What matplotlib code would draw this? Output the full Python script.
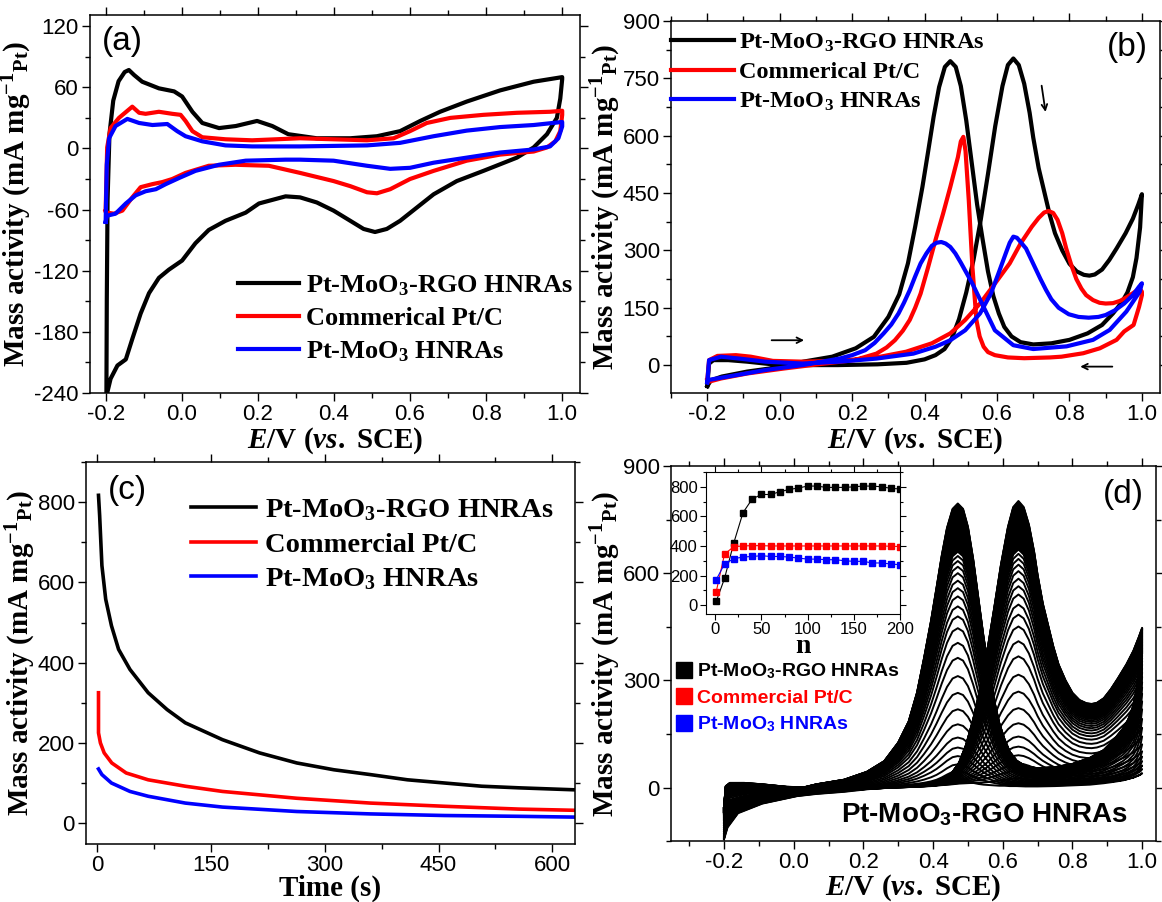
import numpy as np
import matplotlib
matplotlib.use("Agg")
import matplotlib.pyplot as plt
from matplotlib.lines import Line2D
from matplotlib.ticker import MultipleLocator

plt.rcParams['font.family'] = ['Liberation Sans', 'DejaVu Sans']
plt.rcParams['mathtext.fontset'] = 'custom'
plt.rcParams['mathtext.rm'] = 'Liberation Serif:bold'
plt.rcParams['mathtext.it'] = 'Liberation Serif:italic:bold'
plt.rcParams['mathtext.bf'] = 'Liberation Serif:bold'
plt.rcParams['mathtext.sf'] = 'Liberation Sans:bold'
plt.rcParams['axes.unicode_minus'] = False

# ---------------- (a) CV in H2SO4 ----------------
a_blk_x = [-0.198, -0.197, -0.195, -0.19, -0.18, -0.166, -0.15, -0.139, -0.125, -0.104, -0.06, -0.02, 0.001,
           0.028, 0.054, 0.098, 0.142, 0.198, 0.238, 0.28, 0.355, 0.443, 0.513, 0.574, 0.627, 0.679, 0.749,
           0.837, 0.925, 1.0,
           1.0, 0.995, 0.986, 0.96, 0.925, 0.881, 0.793, 0.723, 0.662, 0.618, 0.574, 0.539, 0.508, 0.478,
           0.443, 0.399, 0.355, 0.311, 0.273, 0.203, 0.168, 0.115, 0.071, 0.036, 0.001, -0.034, -0.06,
           -0.086, -0.108, -0.13, -0.147, -0.169, -0.187, -0.196]
a_blk_y = [-240, -149, -51, 14, 47, 66, 75, 77, 72, 65.5, 59, 56, 51, 36, 25, 20, 22, 27, 22, 14, 10, 10,
           12, 17, 27, 36, 46, 57, 65.5, 70,
           68, 49, 30, 14, 1, -9, -22, -32, -45, -58, -71, -79, -82, -79, -71, -61, -53, -48, -47, -54,
           -63, -71, -80, -93, -110, -119, -127, -142, -162, -187, -207, -213, -226, -240]

a_red_x = [-0.2, -0.196, -0.187, -0.165, -0.13, -0.112, -0.095, -0.06, -0.025, -0.003, 0.01, 0.028, 0.054,
           0.115, 0.185, 0.311, 0.399, 0.487, 0.557, 0.6, 0.644, 0.706, 0.793, 0.881, 0.968, 1.0,
           1.0, 0.995, 0.982, 0.96, 0.925, 0.837, 0.749, 0.662, 0.6, 0.548, 0.513, 0.487, 0.443, 0.399,
           0.311, 0.229, 0.141, 0.071, 0.01, -0.025, -0.051, -0.077, -0.108, -0.13, -0.156, -0.178,
           -0.196, -0.2]
a_red_y = [-61, 1, 20, 30, 41, 35, 34, 36, 34, 33, 27, 17, 11, 9, 8, 10, 9, 8, 10, 17, 25, 30, 33, 35, 36, 37,
           33, 17, 7, 1, -3, -6, -12, -22, -30, -40, -44, -43, -37, -32, -24, -17, -16, -17, -24, -30,
           -33, -35, -38, -48, -61, -64, -63, -61]

a_blu_x = [-0.2, -0.197, -0.191, -0.174, -0.143, -0.112, -0.077, -0.038, -0.012, 0.01, 0.054, 0.115, 0.185,
           0.311, 0.487, 0.574, 0.662, 0.749, 0.837, 0.925, 1.0,
           1.0, 0.99, 0.968, 0.925, 0.837, 0.749, 0.662, 0.6, 0.548, 0.487, 0.399, 0.311, 0.273, 0.168,
           0.098, 0.036, -0.007, -0.042, -0.068, -0.095, -0.121, -0.147, -0.174, -0.196, -0.2]
a_blu_y = [-72, -16, 10, 22, 29, 25, 23, 24, 17, 12, 7, 3, 2, 2, 3, 5.5, 12, 17.5, 21, 23, 26,
           21.6, 10, 2, -1, -4, -9, -14, -19, -20, -17, -12, -11, -11, -12, -16, -22, -29, -35, -40,
           -42, -46, -54, -64, -66, -72]

# ---------------- (b) CV in H2SO4 + CH3OH ----------------
b_blk_fwd_x = [-0.2, -0.195, -0.183, -0.142, -0.09, -0.02, 0.06, 0.16, 0.27, 0.35, 0.40, 0.43, 0.455, 0.475,
               0.495, 0.515, 0.535, 0.555, 0.575, 0.595, 0.615, 0.63, 0.645, 0.66, 0.675, 0.69, 0.70,
               0.715, 0.73, 0.745, 0.76, 0.78, 0.80, 0.82, 0.84, 0.855, 0.87, 0.89, 0.91, 0.93, 0.955,
               0.975, 0.99, 1.0]
b_blk_fwd_y = [-55, 4, 13, 13, 9, 2, 0, 0, 2, 6, 15, 26, 42, 70, 120, 190, 275, 380, 500, 625, 730, 785,
               802, 785, 736, 660, 595, 515, 455, 395, 345, 300, 265, 245, 236, 234, 237, 250, 275, 305,
               345, 383, 420, 447]
b_blk_rev_x = [1.0, 0.995, 0.985, 0.975, 0.96, 0.945, 0.92, 0.89, 0.85, 0.80, 0.75, 0.70, 0.665, 0.64,
               0.62, 0.605, 0.59, 0.575, 0.56, 0.545, 0.53, 0.515, 0.50, 0.486, 0.471, 0.456, 0.44, 0.425,
               0.41, 0.394, 0.374, 0.354, 0.33, 0.30, 0.26, 0.21, 0.145, 0.065, 0.01, -0.09, -0.16,
               -0.19, -0.2]
b_blk_rev_y = [447, 360, 280, 230, 190, 165, 135, 105, 83, 66, 57, 54, 60, 75, 100, 135, 180, 245, 330,
               420, 530, 640, 730, 780, 795, 780, 727, 650, 560, 466, 362, 266, 185, 126, 74, 44, 22, 9,
               -4, -17, -30, -40, -55]

b_red_fwd_x = [-0.2, -0.195, -0.172, -0.121, -0.08, -0.019, 0.063, 0.165, 0.267, 0.349, 0.42, 0.471, 0.512,
               0.553, 0.594, 0.635, 0.665, 0.696, 0.715, 0.73, 0.742, 0.755, 0.767, 0.78, 0.791, 0.805,
               0.819, 0.833, 0.846, 0.865, 0.883, 0.90, 0.92, 0.94, 0.957, 0.975, 0.994, 1.0]
b_red_fwd_y = [-39, 13, 24, 26, 22, 11, 9, 11, 20, 35, 57, 83, 118, 161, 213, 266, 318, 362, 385, 399,
               403, 398, 380, 345, 305, 262, 225, 200, 183, 170, 163, 161, 162, 168, 177, 188, 200, 192]
b_red_rev_x = [1.0, 0.992, 0.977, 0.951, 0.93, 0.884, 0.838, 0.778, 0.746, 0.675, 0.63, 0.594, 0.575,
               0.563, 0.552, 0.543, 0.532, 0.522, 0.513, 0.507, 0.5, 0.492, 0.471, 0.451, 0.43, 0.41,
               0.389, 0.374, 0.359, 0.34, 0.318, 0.295, 0.267, 0.206, 0.114, 0.011, -0.09, -0.162,
               -0.198, -0.2]
b_red_rev_y = [183, 152, 105, 88, 66, 44, 31, 22, 20, 18, 20, 26, 34, 48, 75, 118, 257, 431, 560, 597,
               585, 544, 466, 396, 327, 257, 187, 150, 118, 90, 65, 46, 30, 13, 3, -9, -22, -35, -44, -39]

b_blu_fwd_x = [-0.2, -0.195, -0.162, -0.111, -0.04, 0.063, 0.165, 0.267, 0.369, 0.43, 0.471, 0.512, 0.553,
               0.583, 0.604, 0.624, 0.635, 0.645, 0.655, 0.665, 0.68, 0.69, 0.705, 0.72, 0.735, 0.75, 0.77,
               0.798, 0.825, 0.853, 0.88, 0.9, 0.925, 0.951, 0.975, 0.992, 1.0]
b_blu_fwd_y = [-45, 13, 22, 17, 9, 4, 9, 17, 30, 48, 65, 91, 135, 187, 240, 292, 320, 336, 333, 322, 305,
               285, 255, 225, 197, 172, 150, 133, 126, 124, 126, 131, 143, 161, 183, 205, 214]
b_blu_rev_x = [1.0, 0.994, 0.957, 0.911, 0.865, 0.792, 0.7, 0.645, 0.594, 0.563, 0.532, 0.50, 0.485, 0.471,
               0.458, 0.446, 0.433, 0.42, 0.405, 0.389, 0.374, 0.359, 0.343, 0.328, 0.308, 0.287, 0.262,
               0.236, 0.2, 0.165, 0.063, -0.04, -0.142, -0.198, -0.2]
b_blu_rev_y = [214, 192, 140, 92, 66, 49, 42, 52, 91, 152, 213, 268, 292, 309, 318, 322, 320, 312, 292,
               266, 232, 196, 163, 135, 106, 83, 58, 39, 26, 17, 0, -13, -30, -39, -45]

# ---------------- (c) chronoamperometry ----------------
c_blk_t = [1.5, 3, 6, 11, 18.6, 28, 43, 67, 92, 116, 165, 214, 263, 312, 360, 409, 458, 507, 556, 630]
c_blk_i = [817, 767, 642, 558, 492, 433, 383, 325, 283, 250, 208, 175, 150, 133, 121, 108, 100, 92, 88, 83]
c_red_t = [1.5, 1.5, 4, 9, 19, 38, 67, 116, 165, 263, 360, 458, 556, 630]
c_red_i = [325, 225, 200, 175, 150, 125, 108, 92, 79, 62, 50, 42, 35, 32]
c_blu_t = [1.5, 6, 18.6, 43, 67, 116, 165, 263, 360, 458, 556, 630]
c_blu_i = [135, 121, 100, 79, 67, 50, 40, 29, 23, 19, 17, 15]

# ---------------- (d) 200 cycles of Pt-MoO3-RGO ----------------
# first cycle, read at the same potentials as the (b) black curve
d_first_fwd_y = [-145, -105, -80, -58, -38, -24, -14, -7, -1, 2, 5, 7, 9, 11, 12, 13, 14, 15, 17, 20, 23,
                 25, 26, 25, 23, 21, 20, 18, 16, 15, 14, 13, 13, 13, 13, 13, 14, 15, 17, 19, 23, 28, 34, 40]
d_first_rev_y = [40, 36, 32, 28, 24, 20, 16, 12, 8, 6, 4, 3, 3, 4, 4, 5, 5, 6, 7, 8, 10, 13, 18, 22, 24,
                 22, 16, 10, 6, 4, 3, 3, 3, 2, -1, -5, -12, -18, -24, -45, -72, -112, -145]
# peak heights (near 0.47 V) of the drawn cycles
d_peaks = [24, 46, 65, 88, 112, 140, 177, 219, 265, 312, 363, 405, 446, 479, 507, 535, 558, 579, 600,
           618, 634, 648, 660, 664, 668, 672, 676, 680, 684, 688, 692, 696, 700, 704, 708, 712, 716, 720,
           724, 728, 732, 736, 740, 744, 748, 752, 756, 760, 764, 768, 772, 776, 780, 784, 788, 791,
           793, 795]
# inset: peak current vs cycle number
n_cyc = [1, 10, 20, 30, 40, 50, 60, 70, 80, 90, 100, 110, 120, 130, 140, 150, 160, 170, 180, 190, 200]
n_blk = [25, 180, 420, 625, 718, 748, 748, 767, 782, 792, 805, 805, 796, 796, 796, 800, 805, 805, 800,
         790, 785]
n_red = [90, 345, 395, 400, 402, 402, 400, 400, 400, 400, 400, 400, 400, 400, 400, 400, 400, 400, 400,
         398, 396]
n_blu = [172, 278, 314, 325, 329, 334, 329, 329, 325, 318, 311, 311, 307, 307, 300, 296, 296, 285, 285,
         278, 273]

labels_a = ['Pt-MoO$_3$-RGO HNRAs', 'Commerical Pt/C', 'Pt-MoO$_3$ HNRAs']
labels_c = ['Pt-MoO$_3$-RGO HNRAs', 'Commercial Pt/C', 'Pt-MoO$_3$ HNRAs']
labels_d = ['Pt-MoO$_\\mathsf{3}$-RGO HNRAs', 'Commercial Pt/C', 'Pt-MoO$_\\mathsf{3}$ HNRAs']
colors = ['black', '#ff0000', '#0000ff']

YLAB = 'Mass activity (mA mg$^{-1}{}_{\\rm Pt}$)'
XLAB = '$\\mathit{E}$/V ($\\mathit{vs.}$ SCE)'
SERIF = {'family': 'Liberation Serif', 'weight': 'bold'}
TICK_FS = 16
LAB_FS = 21


def style(ax, xmaj, xmin, ymaj, ymin):
    ax.xaxis.set_major_locator(MultipleLocator(xmaj))
    ax.xaxis.set_minor_locator(MultipleLocator(xmin))
    ax.yaxis.set_major_locator(MultipleLocator(ymaj))
    ax.yaxis.set_minor_locator(MultipleLocator(ymin))
    ax.tick_params(which='both', direction='out', top=True, right=True, labelsize=TICK_FS, width=1)
    ax.tick_params(which='major', length=6, pad=2)
    ax.tick_params(which='minor', length=3.5)
    for s in ax.spines.values():
        s.set_linewidth(1.1)


def cv_axis(ax, pad=0):
    ax.set_xticks([-0.2, 0.0, 0.2, 0.4, 0.6, 0.8, 1.0])
    ax.set_xticklabels(['-0.2', '0.0', '0.2', '0.4', '0.6', '0.8', '1.0'])
    ax.set_xlabel(XLAB, fontsize=LAB_FS, labelpad=pad, **SERIF)
    ax.set_ylabel(YLAB, fontsize=LAB_FS, labelpad=0, **SERIF)


fig = plt.figure(figsize=(11.62, 9.02), dpi=100)

# (a)
ax = fig.add_axes([0.0775, 0.5643, 0.4217, 0.4191])
for x, y, c, l in zip([a_blk_x, a_red_x, a_blu_x], [a_blk_y, a_red_y, a_blu_y], colors, labels_a):
    ax.plot(x, y, color=c, lw=3, label=l, solid_joinstyle='round')
ax.set_xlim(-0.241, 1.047)
ax.set_ylim(-240, 131)
style(ax, 0.2, 0.1, 60, 30)
cv_axis(ax)
ax.legend(loc='lower right', bbox_to_anchor=(1.035, 0.015), frameon=False, handlelength=2.3,
          handletextpad=0.3, labelspacing=0.33, prop={'family': 'Liberation Serif', 'weight': 'bold',
                                                      'size': 19})
ax.text(0.025, 0.97, '(a)', transform=ax.transAxes, fontsize=24, va='top')

# (b)
ax = fig.add_axes([0.5775, 0.5643, 0.4208, 0.4124])
for xs, ys, c, l in zip([(b_blk_fwd_x, b_blk_rev_x), (b_red_fwd_x, b_red_rev_x), (b_blu_fwd_x, b_blu_rev_x)],
                        [(b_blk_fwd_y, b_blk_rev_y), (b_red_fwd_y, b_red_rev_y), (b_blu_fwd_y, b_blu_rev_y)],
                        colors, labels_a):
    ax.plot(list(xs[0]) + list(xs[1]), list(ys[0]) + list(ys[1]), color=c, lw=3, label=l,
            solid_joinstyle='round')
ax.set_xlim(-0.3, 1.05)
ax.set_ylim(-73, 900)
style(ax, 0.2, 0.1, 150, 75)
cv_axis(ax)
ax.legend(loc='upper left', bbox_to_anchor=(-0.045, 1.03), frameon=False, handlelength=2.6,
          handletextpad=0.2, labelspacing=0.3, prop={'family': 'Liberation Serif', 'weight': 'bold',
                                                     'size': 17.5})
ax.text(0.975, 0.97, '(b)', transform=ax.transAxes, fontsize=24, va='top', ha='right')
arr = dict(arrowstyle='->', color='black', lw=1.3)
ax.annotate('', xy=(0.075, 65), xytext=(-0.03, 65), arrowprops=arr)
ax.annotate('', xy=(0.822, -4), xytext=(0.926, -4), arrowprops=arr)
ax.annotate('', xy=(0.735, 655), xytext=(0.722, 738), arrowprops=arr)

# (c)
ax = fig.add_axes([0.074, 0.0643, 0.4208, 0.4235])
for t, i, c, l in zip([c_blk_t, c_red_t, c_blu_t], [c_blk_i, c_red_i, c_blu_i], colors, labels_c):
    ax.plot(t, i, color=c, lw=2.6, label=l)
ax.set_xlim(-15, 630)
ax.set_ylim(-52, 900)
style(ax, 150, 75, 200, 100)
ax.set_xlabel('Time (s)', fontsize=LAB_FS, labelpad=-1, **SERIF)
ax.set_ylabel(YLAB, fontsize=LAB_FS, labelpad=0, **SERIF)
ax.legend(loc='upper right', bbox_to_anchor=(1.008, 0.975), frameon=False, handlelength=2.3,
          handletextpad=0.3, labelspacing=0.3, prop={'family': 'Liberation Serif', 'weight': 'bold',
                                                     'size': 20.5})
ax.text(0.045, 0.965, '(c)', transform=ax.transAxes, fontsize=24, va='top')

# (d)
ax = fig.add_axes([0.5775, 0.0675, 0.4174, 0.4159])
fwd_x = np.array(b_blk_fwd_x)
rev_x = np.array(b_blk_rev_x)
first_f = np.array(d_first_fwd_y, float)
first_r = np.array(d_first_rev_y, float)
last_f = np.array(b_blk_fwd_y, float)
last_r = np.array(b_blk_rev_y, float)
p0, p1 = max(d_first_rev_y[5:]), max(b_blk_rev_y)
for p in d_peaks:
    s = (p - p0) / (p1 - p0)
    yf = first_f + s * (last_f - first_f)
    yr = first_r + s * (last_r - first_r)
    ax.plot(np.r_[fwd_x, rev_x], np.r_[yf, yr], color='black', lw=1.4)
ax.set_xlim(-0.352, 1.04)
ax.set_ylim(-150, 900)
style(ax, 0.2, 0.1, 300, 150)
cv_axis(ax, pad=-0.5)
ax.text(0.975, 0.965, '(d)', transform=ax.transAxes, fontsize=24, va='top', ha='right')
ax.text(0.647, 0.07, 'Pt-MoO$_\\mathsf{3}$-RGO HNRAs', transform=ax.transAxes, fontsize=20,
        weight='bold', ha='center', va='center')
handles = [Line2D([], [], marker='s', ls='none', color=c, markersize=11) for c in colors]
leg = ax.legend(handles, labels_d, loc='upper left', bbox_to_anchor=(-0.025, 0.525), frameon=False,
                handlelength=0.8, handletextpad=0.25, labelspacing=0.4,
                prop={'family': 'Liberation Sans', 'weight': 'bold', 'size': 14})
for txt, c in zip(leg.get_texts(), colors):
    txt.set_color(c)

# inset
ins = fig.add_axes([0.6076, 0.3193, 0.167, 0.1574])
for y, c in zip([n_blk, n_red, n_blu], colors):
    ins.plot(n_cyc, y, color=c, lw=0.8, marker='s', markersize=5, mec=c, mfc=c)
ins.set_xlim(-10, 200)
ins.set_ylim(-60, 900)
ins.xaxis.set_major_locator(MultipleLocator(50))
ins.xaxis.set_minor_locator(MultipleLocator(25))
ins.yaxis.set_major_locator(MultipleLocator(200))
ins.yaxis.set_minor_locator(MultipleLocator(100))
ins.tick_params(which='both', direction='out', top=True, right=True, labelsize=12, width=0.8, pad=2)
ins.tick_params(which='major', length=4)
ins.tick_params(which='minor', length=2)
ins.set_xlabel('n', fontsize=20, labelpad=-2.5, **SERIF)

fig.savefig('out.png', dpi=100)
